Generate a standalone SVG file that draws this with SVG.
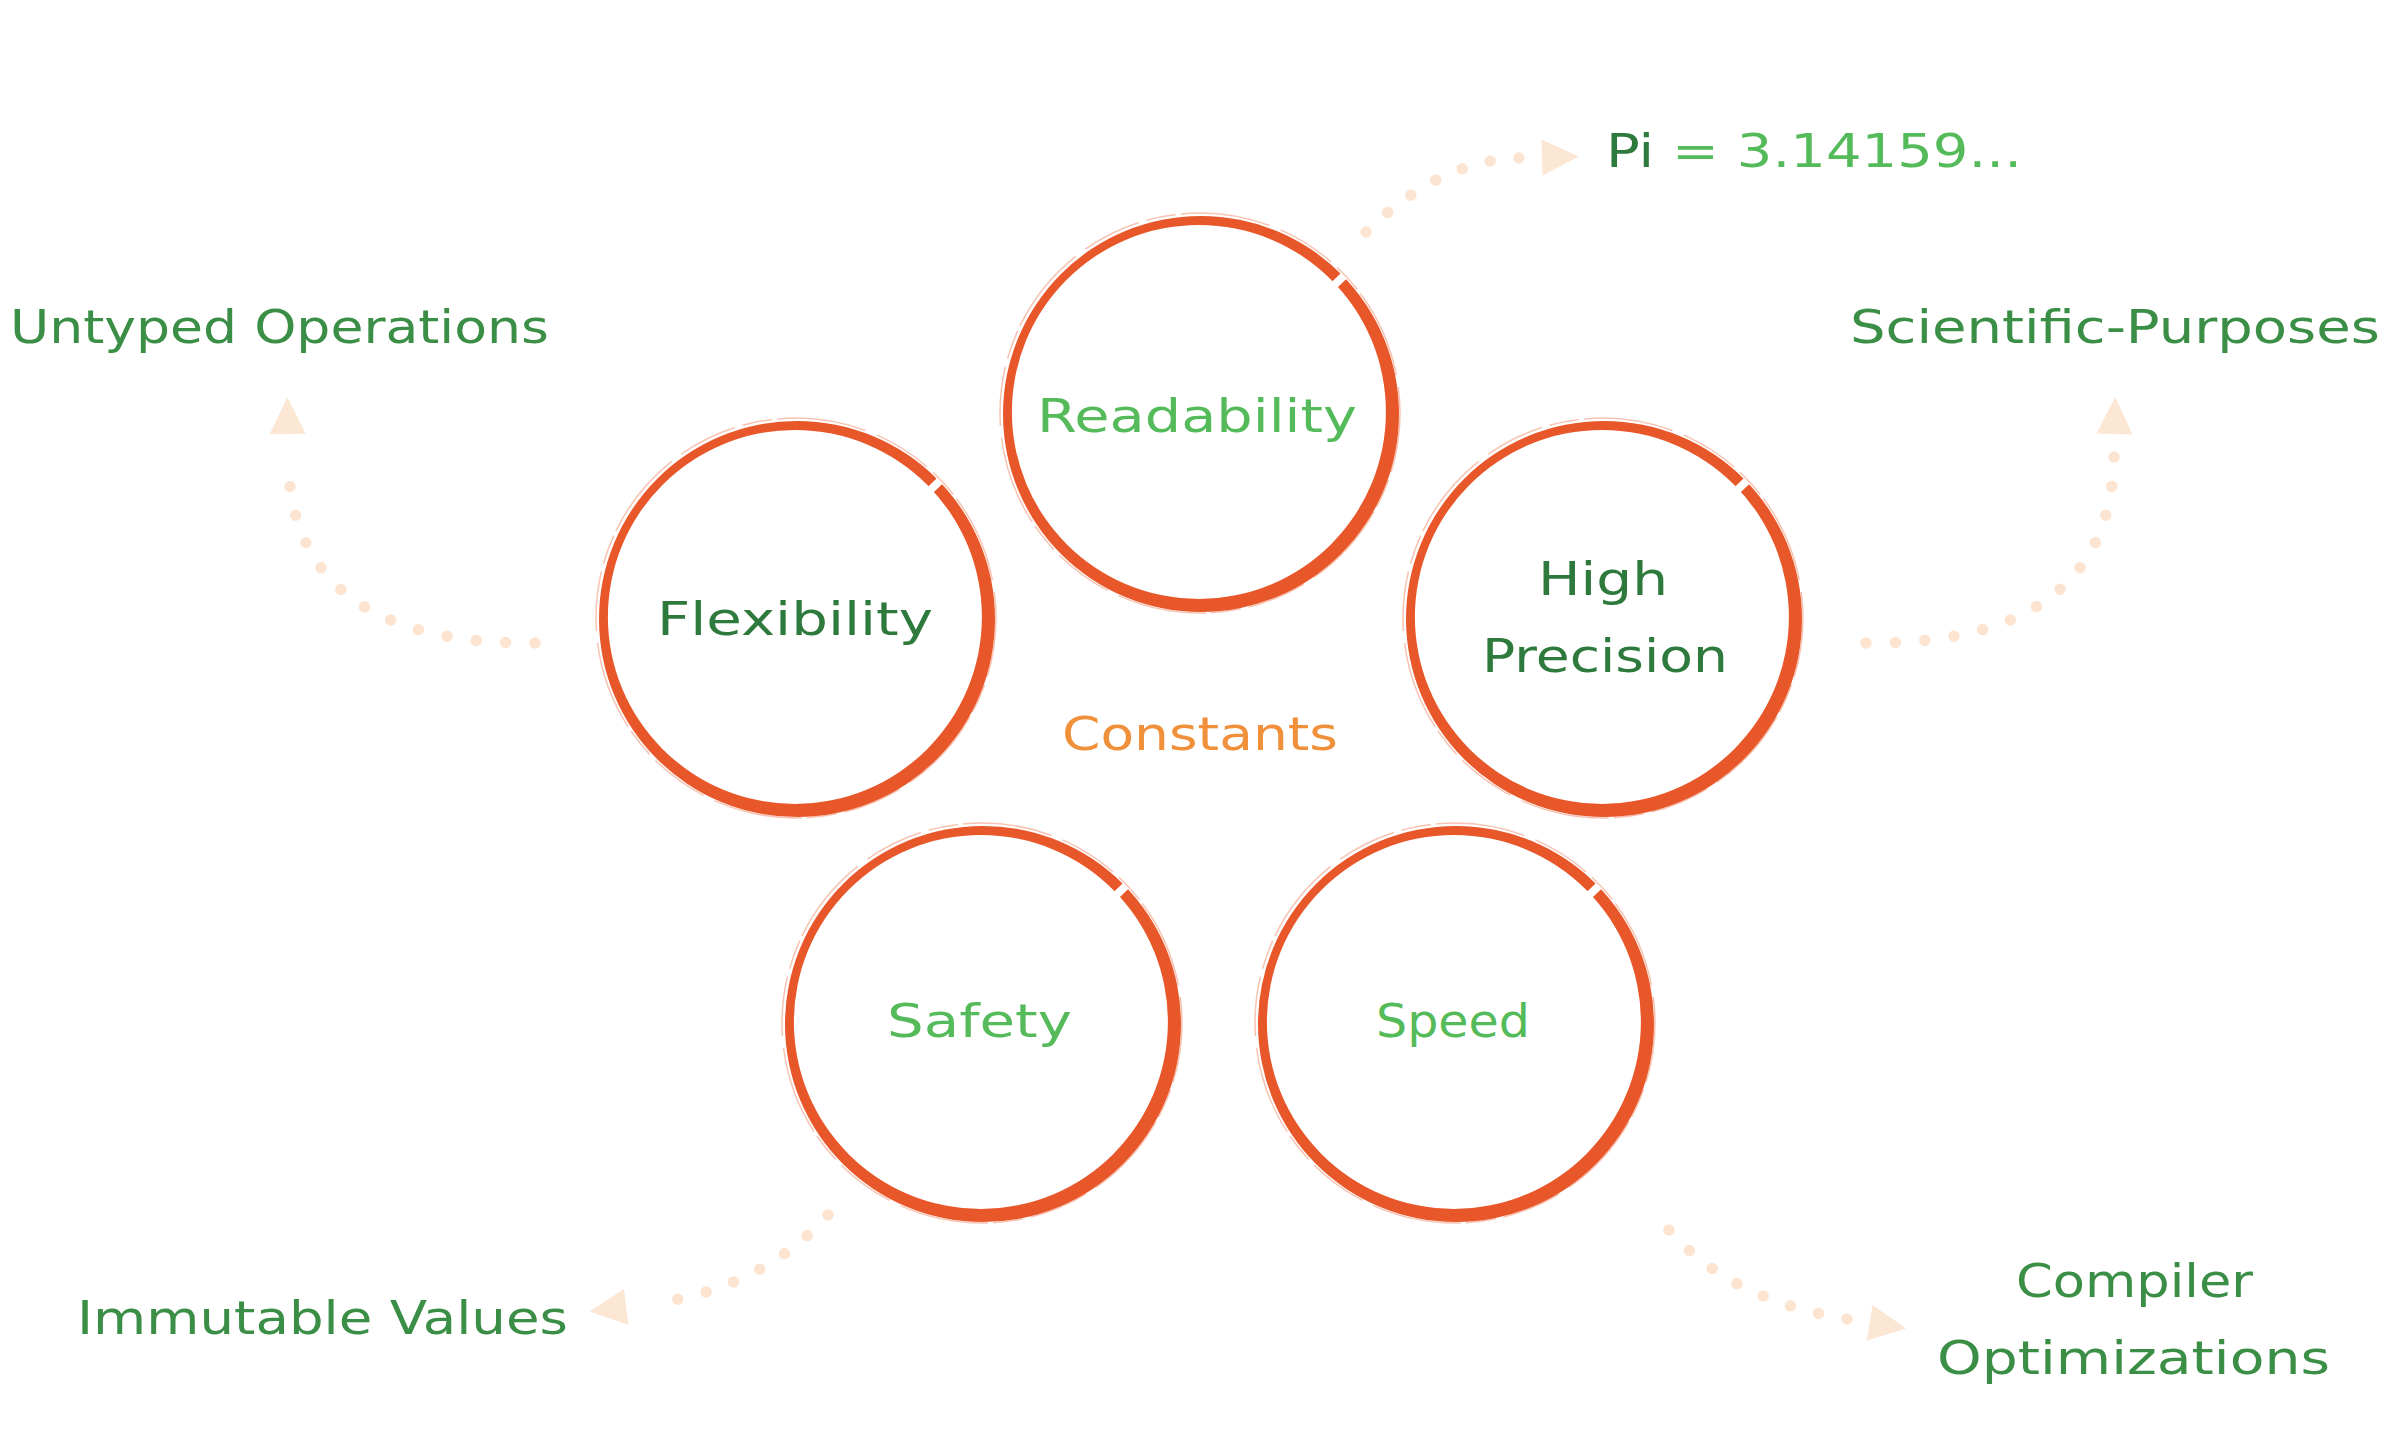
<svg xmlns="http://www.w3.org/2000/svg" width="2400" height="1440" viewBox="0 0 2400 1440">
  <style>
    .bg { fill: #ffffff; }
    .ring { fill: #E8572A; fill-rule: evenodd; }
    .ringhair { fill: none; stroke: #EE7A55; stroke-width: 1.5; opacity: 0.45; stroke-dasharray: 60 8 30 5 90 12; }
    text { font-family: "DejaVu Sans", "Liberation Sans", sans-serif; font-size: 46px; }
    .light { fill: #55BB5A; }
    .dark { fill: #2E7A3C; }
    .outer { fill: #3A8E45; }
    .center { fill: #F0903A; }
    .dots { fill: none; stroke: #FCE4D1; stroke-width: 11.5; stroke-linecap: round; stroke-dasharray: 0 1; marker-end: url(#arrowhead); }
  </style>
  <defs>
    <marker id="arrowhead" markerUnits="userSpaceOnUse" viewBox="0 -40 80 80" markerWidth="80" markerHeight="80" refX="0" refY="0" orient="auto" overflow="visible">
      <polygon points="23,-18 60,0 23,18" fill="#FCE6D4"/>
    </marker>
    <mask id="brushgap" maskContentUnits="objectBoundingBox">
      <rect x="-0.1" y="-0.1" width="1.2" height="1.2" fill="#ffffff"/>
      <line x1="0.812" y1="0.198" x2="0.885" y2="0.128" stroke="#000000" stroke-width="0.02"/>
    </mask>
    <g id="ring">
      <path class="ring" mask="url(#brushgap)" d="M199,1 A198,198 0 1,0 -197,1 A198,198 0 1,0 199,1 Z M185.9,-1.1 A187,187 0 1,0 -188.1,-1.1 A187,187 0 1,0 185.9,-1.1 Z"/>
      <circle class="ringhair" cx="0" cy="0" r="200"/>
    </g>
  </defs>
  <rect class="bg" x="0" y="0" width="2400" height="1440"/>

  <g id="connectors">
    <path class="dots" pathLength="6" d="M1366,232 Q1440,160 1519,158"/>
    <path class="dots" pathLength="12" d="M535,643 Q290,645 288,457"/>
    <path class="dots" pathLength="12" d="M1866,643 Q2110,645 2114,457"/>
    <path class="dots" pathLength="7" d="M828,1215 Q760,1290 649,1304"/>
    <path class="dots" pathLength="7" d="M1669,1230 Q1730,1300 1847,1319"/>
  </g>

  <g id="node-readability">
    <use href="#ring" x="1200" y="413"/>
    <text class="light" x="1037" y="432" textLength="320" lengthAdjust="spacingAndGlyphs">Readability</text>
  </g>

  <g id="node-flexibility">
    <use href="#ring" x="796" y="618"/>
    <text class="dark" x="657" y="635" textLength="276" lengthAdjust="spacingAndGlyphs">Flexibility</text>
  </g>

  <g id="node-high-precision">
    <use href="#ring" x="1603" y="618"/>
    <text class="dark" x="1538" y="595" textLength="130" lengthAdjust="spacingAndGlyphs">High</text>
    <text class="dark" x="1482" y="672" textLength="246" lengthAdjust="spacingAndGlyphs">Precision</text>
  </g>

  <g id="node-safety">
    <use href="#ring" x="982" y="1023"/>
    <text class="light" x="887" y="1037" textLength="185" lengthAdjust="spacingAndGlyphs">Safety</text>
  </g>

  <g id="node-speed">
    <use href="#ring" x="1455" y="1023"/>
    <text class="light" x="1376" y="1037" textLength="154" lengthAdjust="spacingAndGlyphs">Speed</text>
  </g>

  <g id="node-constants">
    <text class="center" x="1062" y="750" textLength="276" lengthAdjust="spacingAndGlyphs">Constants</text>
  </g>

  <g id="label-pi">
    <text x="1606" y="167" textLength="416" lengthAdjust="spacingAndGlyphs"><tspan class="dark">Pi</tspan><tspan class="light"> = 3.14159...</tspan></text>
  </g>

  <g id="label-untyped">
    <text class="outer" x="10" y="343" textLength="539" lengthAdjust="spacingAndGlyphs">Untyped Operations</text>
  </g>

  <g id="label-scientific">
    <text class="outer" x="1850" y="343" textLength="530" lengthAdjust="spacingAndGlyphs">Scientific-Purposes</text>
  </g>

  <g id="label-immutable">
    <text class="outer" x="77" y="1334" textLength="491" lengthAdjust="spacingAndGlyphs">Immutable Values</text>
  </g>

  <g id="label-compiler">
    <text class="outer" x="2016" y="1297" textLength="237" lengthAdjust="spacingAndGlyphs">Compiler</text>
    <text class="outer" x="1937" y="1374" textLength="393" lengthAdjust="spacingAndGlyphs">Optimizations</text>
  </g>
</svg>
